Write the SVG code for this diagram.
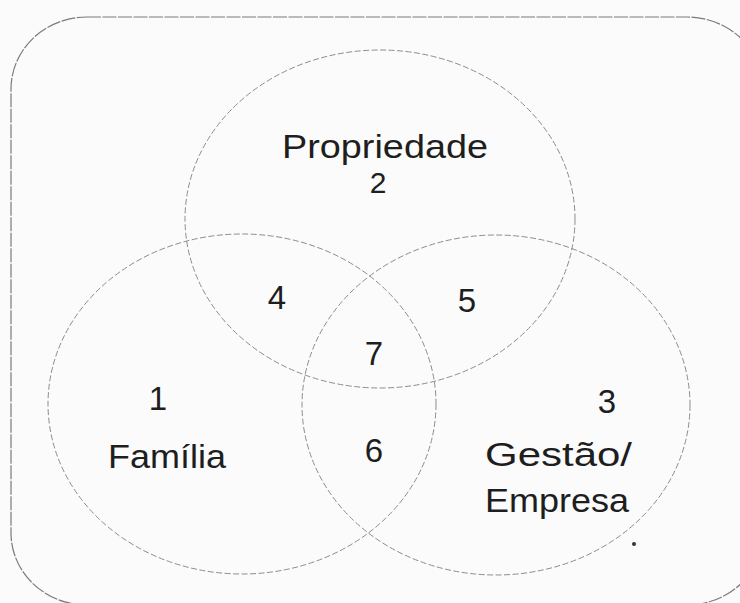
<svg xmlns="http://www.w3.org/2000/svg" width="740" height="603" viewBox="0 0 740 603">
<style>
.bg{fill:#fbfbfb}
.frame{fill:none;stroke:#7a7a7a;stroke-width:1.2;stroke-dasharray:14 1.5}
.set{fill:none;stroke:#8c8c8c;stroke-width:1;stroke-dasharray:6 2.5}
.t{font-family:"Liberation Sans","DejaVu Sans",sans-serif;font-size:33px;fill:#1e1e1e;text-anchor:middle}
.l{text-anchor:start}
</style>
<rect class="bg" x="0" y="0" width="740" height="603"/>
<rect id="frame" class="frame" x="11" y="17" width="752" height="588" rx="76" ry="72"/>
<g id="propriedade">
  <ellipse class="set" cx="380" cy="219" rx="195" ry="169"/>
  <text class="t" x="385" y="158" textLength="206" lengthAdjust="spacingAndGlyphs">Propriedade</text>
  <text class="t" x="378" y="193" style="font-size:30px">2</text>
</g>
<g id="familia">
  <ellipse class="set" cx="242" cy="404" rx="194" ry="170"/>
  <text class="t" x="158" y="410">1</text>
  <text class="t l" x="108" y="468" textLength="118" lengthAdjust="spacingAndGlyphs">Família</text>
</g>
<g id="gestao">
  <ellipse class="set" cx="496" cy="405" rx="194" ry="170"/>
  <text class="t" x="607" y="413">3</text>
  <text class="t l" x="485" y="466" textLength="147" lengthAdjust="spacingAndGlyphs">Gestão/</text>
  <text class="t l" x="485" y="512" textLength="144" lengthAdjust="spacingAndGlyphs">Empresa</text>
</g>
<g id="intersections">
  <text class="t" x="277" y="309">4</text>
  <text class="t" x="467" y="312">5</text>
  <text class="t" x="374" y="462">6</text>
  <text class="t" x="374" y="365">7</text>
</g>
<g id="connectors"></g>
<circle cx="634" cy="544" r="2" fill="#333"/>
</svg>
